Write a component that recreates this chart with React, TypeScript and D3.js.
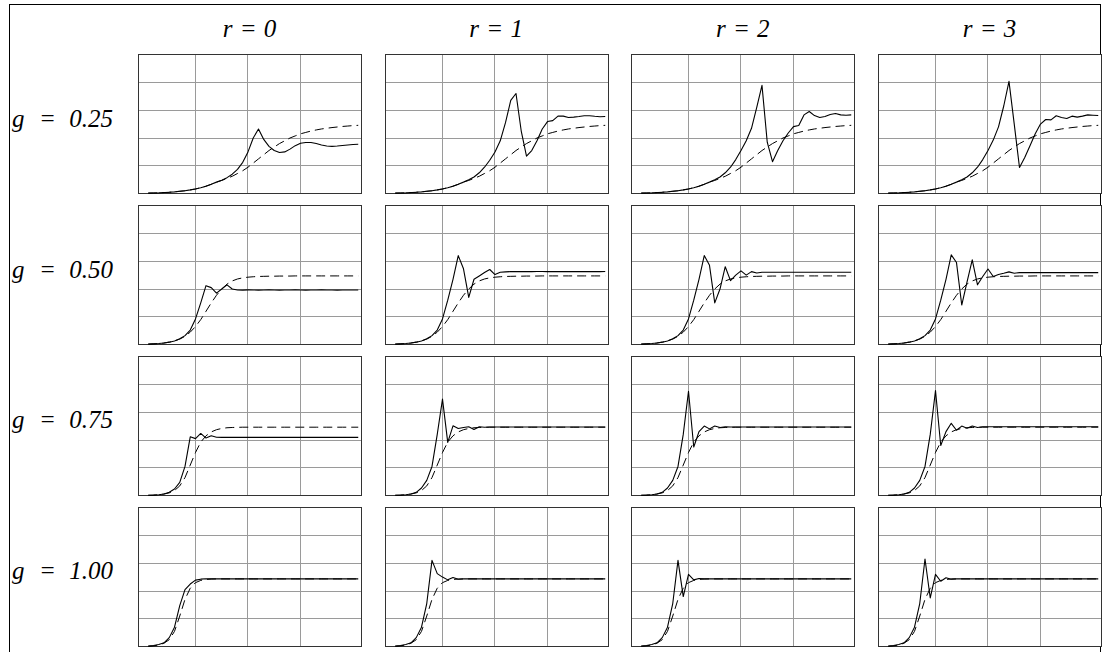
import React from 'react';
import * as d3 from 'd3';

const R_LABELS = ['r = 0', 'r = 1', 'r = 2', 'r = 3'];
const G_LABELS = ['0.25', '0.50', '0.75', '1.00'];
const STEPS = d3.range(1, 42);
const X_TICKS = [10, 20, 30];
const Y_TICKS = [0.2, 0.4, 0.6, 0.8];

// g = 0.25
const DASH_G025 = [0.004,0.005,0.006,0.008,0.010,0.013,0.017,0.021,0.027,0.034,0.043,0.054,0.067,0.083,0.095,0.11,0.125,0.145,0.165,0.19,0.22,0.25,0.28,0.31,0.335,0.36,0.38,0.40,0.415,0.43,0.44,0.45,0.458,0.465,0.47,0.475,0.479,0.483,0.486,0.489,0.491];
const SOLID_G025_R0 = [0.004,0.005,0.006,0.008,0.010,0.013,0.017,0.021,0.027,0.034,0.043,0.054,0.067,0.083,0.097,0.115,0.14,0.175,0.225,0.30,0.40,0.465,0.39,0.34,0.31,0.296,0.30,0.32,0.345,0.362,0.368,0.368,0.36,0.35,0.343,0.34,0.342,0.346,0.35,0.353,0.355];
const SOLID_G025_R1 = [0.004,0.005,0.006,0.008,0.010,0.013,0.017,0.021,0.027,0.034,0.043,0.054,0.067,0.083,0.10,0.12,0.15,0.19,0.24,0.30,0.38,0.51,0.67,0.72,0.45,0.27,0.31,0.38,0.465,0.518,0.525,0.557,0.557,0.547,0.55,0.554,0.56,0.56,0.556,0.553,0.554];
const SOLID_G025_R2 = [0.004,0.005,0.006,0.008,0.010,0.013,0.017,0.021,0.027,0.034,0.043,0.054,0.067,0.083,0.10,0.12,0.15,0.19,0.245,0.31,0.38,0.47,0.62,0.778,0.37,0.23,0.31,0.38,0.436,0.482,0.49,0.566,0.59,0.561,0.547,0.554,0.569,0.576,0.566,0.564,0.566];
const SOLID_G025_R3 = [0.004,0.005,0.006,0.008,0.010,0.013,0.017,0.021,0.027,0.034,0.043,0.054,0.067,0.083,0.10,0.12,0.15,0.19,0.245,0.31,0.385,0.48,0.63,0.807,0.50,0.188,0.26,0.345,0.43,0.50,0.533,0.53,0.56,0.547,0.54,0.557,0.55,0.557,0.566,0.564,0.562];

// g = 0.50
const DASH_G050 = [0.004,0.006,0.008,0.012,0.018,0.027,0.04,0.06,0.09,0.13,0.18,0.24,0.30,0.355,0.40,0.435,0.458,0.472,0.48,0.485,0.488,0.49,0.491,0.492,0.492,0.493,0.493,0.493,0.494,0.494,0.494,0.494,0.494,0.494,0.494,0.494,0.494,0.494,0.494,0.494,0.494];
const SOLID_G050_R0 = [0.004,0.006,0.008,0.012,0.018,0.027,0.042,0.065,0.105,0.185,0.30,0.424,0.41,0.37,0.40,0.43,0.40,0.393,0.392,0.394,0.393,0.392,0.393,0.394,0.393,0.392,0.393,0.393,0.394,0.393,0.392,0.393,0.393,0.394,0.393,0.393,0.392,0.393,0.393,0.393,0.393];
const SOLID_G050_R1 = [0.004,0.006,0.008,0.012,0.018,0.027,0.042,0.065,0.105,0.185,0.32,0.47,0.64,0.545,0.34,0.47,0.494,0.518,0.54,0.504,0.52,0.523,0.525,0.525,0.525,0.525,0.525,0.526,0.526,0.525,0.525,0.525,0.525,0.525,0.525,0.525,0.525,0.525,0.525,0.525,0.526];
const SOLID_G050_R2 = [0.004,0.006,0.008,0.012,0.018,0.027,0.042,0.065,0.105,0.185,0.32,0.47,0.64,0.57,0.30,0.40,0.56,0.46,0.50,0.53,0.50,0.525,0.515,0.52,0.52,0.52,0.52,0.52,0.52,0.52,0.52,0.52,0.52,0.52,0.52,0.52,0.52,0.52,0.52,0.52,0.52];
const SOLID_G050_R3 = [0.004,0.006,0.008,0.012,0.018,0.027,0.042,0.065,0.105,0.185,0.32,0.47,0.645,0.59,0.285,0.45,0.61,0.43,0.49,0.544,0.49,0.504,0.513,0.523,0.513,0.518,0.518,0.518,0.518,0.518,0.518,0.518,0.518,0.518,0.518,0.518,0.518,0.518,0.518,0.518,0.518];

// g = 0.75
const DASH_G075 = [0.003,0.004,0.007,0.012,0.02,0.037,0.07,0.13,0.22,0.31,0.385,0.43,0.458,0.474,0.483,0.488,0.49,0.491,0.492,0.492,0.492,0.492,0.492,0.492,0.492,0.492,0.492,0.492,0.492,0.492,0.492,0.492,0.492,0.492,0.492,0.492,0.492,0.492,0.492,0.492,0.492];
const SOLID_G075_R0 = [0.003,0.004,0.007,0.012,0.024,0.048,0.096,0.21,0.423,0.41,0.447,0.414,0.43,0.42,0.419,0.419,0.419,0.419,0.419,0.419,0.419,0.419,0.419,0.419,0.419,0.419,0.419,0.419,0.419,0.419,0.419,0.419,0.419,0.419,0.419,0.419,0.419,0.419,0.419,0.419,0.419];
const SOLID_G075_R1 = [0.003,0.004,0.007,0.012,0.024,0.055,0.11,0.21,0.44,0.694,0.383,0.502,0.483,0.49,0.495,0.476,0.495,0.492,0.493,0.493,0.493,0.493,0.493,0.493,0.493,0.493,0.493,0.493,0.493,0.493,0.493,0.493,0.493,0.493,0.493,0.493,0.493,0.493,0.493,0.493,0.493];
const SOLID_G075_R2 = [0.003,0.004,0.007,0.012,0.024,0.055,0.11,0.21,0.44,0.75,0.35,0.46,0.50,0.48,0.50,0.49,0.495,0.493,0.493,0.493,0.493,0.493,0.493,0.493,0.493,0.493,0.493,0.493,0.493,0.493,0.493,0.493,0.493,0.493,0.493,0.493,0.493,0.493,0.493,0.493,0.493];
const SOLID_G075_R3 = [0.003,0.004,0.007,0.012,0.024,0.055,0.11,0.21,0.44,0.755,0.36,0.46,0.52,0.47,0.50,0.485,0.50,0.49,0.495,0.495,0.495,0.495,0.495,0.495,0.495,0.495,0.495,0.495,0.495,0.495,0.495,0.495,0.495,0.495,0.495,0.495,0.495,0.495,0.495,0.495,0.495];

// g = 1.00
const DASH_G100 = [0.003,0.006,0.012,0.025,0.05,0.11,0.22,0.34,0.42,0.46,0.476,0.483,0.486,0.487,0.487,0.487,0.487,0.487,0.487,0.487,0.487,0.487,0.487,0.487,0.487,0.487,0.487,0.487,0.487,0.487,0.487,0.487,0.487,0.487,0.487,0.487,0.487,0.487,0.487,0.487,0.487];
const SOLID_G100_R0 = [0.004,0.008,0.015,0.028,0.065,0.14,0.295,0.41,0.45,0.478,0.485,0.488,0.487,0.487,0.487,0.487,0.487,0.487,0.487,0.487,0.487,0.487,0.487,0.487,0.487,0.487,0.487,0.487,0.487,0.487,0.487,0.487,0.487,0.487,0.487,0.487,0.487,0.487,0.487,0.487,0.487];
const SOLID_G100_R1 = [0.004,0.008,0.015,0.028,0.065,0.14,0.31,0.62,0.525,0.50,0.48,0.497,0.484,0.487,0.487,0.487,0.487,0.487,0.487,0.487,0.487,0.487,0.487,0.487,0.487,0.487,0.487,0.487,0.487,0.487,0.487,0.487,0.487,0.487,0.487,0.487,0.487,0.487,0.487,0.487,0.487];
const SOLID_G100_R2 = [0.004,0.008,0.015,0.028,0.065,0.14,0.31,0.62,0.36,0.52,0.48,0.49,0.487,0.487,0.487,0.487,0.487,0.487,0.487,0.487,0.487,0.487,0.487,0.487,0.487,0.487,0.487,0.487,0.487,0.487,0.487,0.487,0.487,0.487,0.487,0.487,0.487,0.487,0.487,0.487,0.487];
const SOLID_G100_R3 = [0.004,0.008,0.015,0.028,0.065,0.14,0.31,0.63,0.35,0.52,0.47,0.495,0.485,0.487,0.487,0.487,0.487,0.487,0.487,0.487,0.487,0.487,0.487,0.487,0.487,0.487,0.487,0.487,0.487,0.487,0.487,0.487,0.487,0.487,0.487,0.487,0.487,0.487,0.487,0.487,0.487];

const DASHED_BY_ROW = [DASH_G025, DASH_G050, DASH_G075, DASH_G100];
const SOLID_BY_ROW = [
  [SOLID_G025_R0, SOLID_G025_R1, SOLID_G025_R2, SOLID_G025_R3],
  [SOLID_G050_R0, SOLID_G050_R1, SOLID_G050_R2, SOLID_G050_R3],
  [SOLID_G075_R0, SOLID_G075_R1, SOLID_G075_R2, SOLID_G075_R3],
  [SOLID_G100_R0, SOLID_G100_R1, SOLID_G100_R2, SOLID_G100_R3],
];

const FONT = '"Liberation Serif", "Times New Roman", serif';

export default function App() {
  const W = 1103, H = 652;
  const colBand = d3.scaleBand<number>().domain([0, 1, 2, 3]).range([138, 1101]).paddingInner(0.096);
  const rowBand = d3.scaleBand<number>().domain([0, 1, 2, 3]).range([54, 646]).paddingInner(0.078);
  const pw = colBand.bandwidth();
  const ph = rowBand.bandwidth();
  const x = d3.scaleLinear().domain([-0.857, 41.62]).range([0, pw]);
  const y = d3.scaleLinear().domain([0, 1]).range([ph, 0]);
  const line = d3.line<number>().x((_, i) => x(STEPS[i])).y((d) => y(d));

  return (
    <svg width={W} height={H} style={{ position: 'absolute', left: 0, top: 0, background: '#fff' }}>
      <rect x={0} y={0} width={W} height={H} fill="#fff" />
      <rect x={9.5} y={4.5} width={1091} height={700} fill="none" stroke="#000" strokeWidth={1} />
      {R_LABELS.map((lab, c) => (
        <text key={lab} x={colBand(c)! + pw / 2} y={37} textAnchor="middle" fontFamily={FONT}
          fontStyle="italic" fontSize={25} wordSpacing={1} fill="#000">{lab}</text>
      ))}
      {G_LABELS.map((lab, r) => {
        const by = rowBand(r)! + ph / 2 + 3;
        return (
          <g key={lab}>
            <text x={12} y={by} fontFamily={FONT} fontStyle="italic" fontSize={25} fill="#000">g</text>
            <text x={39} y={by} fontFamily={FONT} fontStyle="italic" fontSize={25} fill="#000">=</text>
            <text x={113} y={by} textAnchor="end" fontFamily={FONT} fontStyle="italic" fontSize={25} fill="#000">{lab}</text>
          </g>
        );
      })}
      {SOLID_BY_ROW.map((rowSeries, r) =>
        rowSeries.map((series, c) => {
          const px = Math.round(colBand(c)!) + 0.5;
          const py = Math.round(rowBand(r)!) + 0.5;
          return (
            <g key={`${r}-${c}`} transform={`translate(${px},${py})`}>
              <rect x={0} y={0} width={Math.round(pw)} height={Math.round(ph)} fill="#fff" />
              {X_TICKS.map((t) => (
                <line key={`x${t}`} x1={Math.round(x(t))} x2={Math.round(x(t))} y1={0} y2={Math.round(ph)} stroke="#9a9a9a" strokeWidth={1} />
              ))}
              {Y_TICKS.map((t) => (
                <line key={`y${t}`} x1={0} x2={Math.round(pw)} y1={Math.round(y(t))} y2={Math.round(y(t))} stroke="#9a9a9a" strokeWidth={1} />
              ))}
              <rect x={0} y={0} width={Math.round(pw)} height={Math.round(ph)} fill="none" stroke="#333" strokeWidth={1} />
              <path d={line(DASHED_BY_ROW[r]) || ''} fill="none" stroke="#000" strokeWidth={1} strokeDasharray="9,5" />
              <path d={line(series) || ''} fill="none" stroke="#000" strokeWidth={1.1} strokeLinejoin="round" />
            </g>
          );
        })
      )}
    </svg>
  );
}
